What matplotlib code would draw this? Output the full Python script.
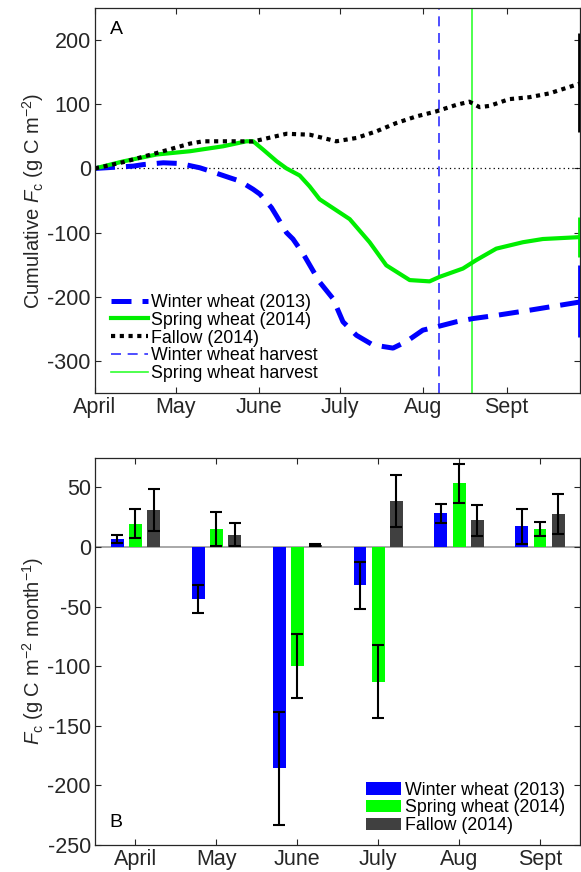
import numpy as np
import matplotlib
matplotlib.use('Agg')
import matplotlib.pyplot as plt

plt.rcParams['font.family'] = ['Liberation Sans', 'DejaVu Sans']
plt.rcParams['mathtext.fontset'] = 'custom'
plt.rcParams['mathtext.rm'] = 'Liberation Sans'
plt.rcParams['mathtext.it'] = 'Liberation Sans:italic'
plt.rcParams['axes.unicode_minus'] = False

# ---- panel A : cumulative Fc vs day of year ----
ww_doy = [91, 105.2, 108.9, 116.4, 122.6, 130, 133.7, 141.1, 144.8, 149.8, 152.3, 156.6,
          158.5, 162.2, 164.6, 168.4, 174.5, 179.5, 183.2, 188.2, 194.3, 201.8, 206.7,
          212.9, 217.9, 225.3, 231.5, 240.2, 252.5, 271.5]
ww_cum = [0, 3.6, 6, 8.8, 7.7, 1, -4, -14.5, -19.6, -32.5, -40, -61,
          -74, -100, -110, -133, -177, -203, -239, -260, -275, -280, -270,
          -252, -247, -239, -234, -229, -221, -208]

sw_doy = [91, 101.5, 113.9, 126.3, 138.6, 147.3, 149.8, 153.5, 158.5, 162.2, 167.1, 170.8,
          174.5, 185.7, 193.1, 199.3, 208, 215.4, 219.1, 227.8, 232.7, 240.2, 250.1,
          257.5, 271.5]
sw_cum = [0, 11, 21.7, 26.8, 34.5, 42.3, 42.3, 29.4, 11.3, 0, -11, -28,
          -48, -79, -115, -151, -174, -176, -169, -156, -143, -125, -115,
          -110, -107]

fa_doy = [91, 101.5, 113.9, 126.3, 131.2, 143.6, 149.8, 162.2, 170.8, 175.8, 180.7, 188.2,
          195.6, 203, 210.4, 217.8, 225.3, 230.2, 234, 237.7, 245, 252.5, 260, 271.5]
fa_cum = [0, 9.8, 24, 38.7, 42.3, 42.3, 42, 54, 52.6, 47.5, 42.3, 47.5,
          57.8, 70.7, 81, 88.8, 99, 104, 95.5, 97.5, 108, 111, 117, 132.6]

# end-of-season uncertainty (centre, half range)
end_mid = [-207, -107, 134]
end_err = [56, 31, 77]

ww_harvest = 219
sw_harvest = 231

month_doy = [91, 121, 152, 182, 213, 244]
month_labels = ['April', 'May', 'June', 'July', 'Aug', 'Sept']

# ---- panel B : monthly Fc ----
ww_month = [6.5, -43.4, -185.7, -32.2, 28.3, 17.4]
ww_month_err = [3.4, 11.8, 47.4, 19.4, 7.8, 14.7]
sw_month = [19.6, 15.1, -100, -113.2, 53.5, 14.9]
sw_month_err = [12.2, 14.4, 27, 30.6, 16.2, 5.8]
fa_month = [30.8, 10.3, 1.5, 38.4, 22.4, 27.7]
fa_month_err = [17.7, 9.8, 0.8, 21.7, 13.2, 16.5]

BLUE = '#0000ff'
GREEN = '#00ee00'
BARGREEN = '#00ff00'
GRAY = '#404040'
AXC = '#262626'
TICKFS = 15.5
LABFS = 14.5
LEGFS = 12.8

fig = plt.figure(figsize=(5.81, 8.72), dpi=100)
axA = fig.add_axes([0.1635, 0.5493, 0.8356, 0.4415])
axB = fig.add_axes([0.1635, 0.031, 0.8356, 0.4442])

for ax in (axA, axB):
    for s in ax.spines.values():
        s.set_color(AXC)
        s.set_linewidth(0.9)
    ax.tick_params(direction='in', top=True, right=True, length=4, width=0.8,
                   colors=AXC, labelsize=TICKFS, labelcolor=AXC, pad=3)

# panel A
axA.axhline(0, color='k', lw=0.9, ls=(0, (1, 2.5)))
axA.axvline(ww_harvest, color='#3030ff', lw=1.2, ls=(0, (6, 4)),
            label='Winter wheat harvest', zorder=1)
axA.axvline(sw_harvest, color='#30ff30', lw=1.2, label='Spring wheat harvest', zorder=1)
lw_line, = axA.plot(ww_doy, ww_cum, color=BLUE, lw=3.6, ls=(0, (4, 2.2)))
ls_line, = axA.plot(sw_doy, sw_cum, color=GREEN, lw=3.0)
lf_line, = axA.plot(fa_doy, fa_cum, color='k', lw=3.0, ls=(0, (1, 1.1)))
axA.errorbar([270.9] * 3, end_mid, yerr=end_err, fmt='none',
             ecolor=[BLUE, GREEN, 'k'], elinewidth=2.0, capsize=0, zorder=4)
axA.set_xlim(91, 271.5)
axA.set_ylim(-350, 250)
axA.set_xticks(month_doy)
axA.set_xticklabels(month_labels)
axA.set_yticks([-300, -200, -100, 0, 100, 200])
axA.set_ylabel(r'Cumulative $\mathit{F}_{\mathrm{c}}$ (g C m$^{-2}$)', fontsize=LABFS,
               color=AXC, labelpad=1)
axA.text(0.03, 0.965, 'A', transform=axA.transAxes, fontsize=14, va='top', ha='left')
h, l = axA.get_legend_handles_labels()
leg = axA.legend([lw_line, ls_line, lf_line, h[0], h[1]],
                 ['Winter wheat (2013)', 'Spring wheat (2014)', 'Fallow (2014)',
                  'Winter wheat harvest', 'Spring wheat harvest'],
                 loc='lower left', bbox_to_anchor=(0.01, 0.0), frameon=False,
                 fontsize=LEGFS, handlelength=2.1, handletextpad=0.2,
                 labelspacing=0.05, borderaxespad=0.2)

# panel B
x = np.arange(1, 7)
off = 0.225
bw = 0.16
axB.axhline(0, color='#999999', lw=1.2, zorder=1)
ekw = dict(ecolor='k', elinewidth=1.5, capsize=4, capthick=1.5)
axB.bar(x - off, ww_month, bw, color=BLUE, label='Winter wheat (2013)', zorder=2)
axB.bar(x, sw_month, bw, color=BARGREEN, label='Spring wheat (2014)', zorder=2)
axB.bar(x + off, fa_month, bw, color=GRAY, label='Fallow (2014)', zorder=2)
axB.errorbar(x - off, ww_month, yerr=ww_month_err, fmt='none', zorder=3, **ekw)
axB.errorbar(x, sw_month, yerr=sw_month_err, fmt='none', zorder=3, **ekw)
axB.errorbar(x + off, fa_month, yerr=fa_month_err, fmt='none', zorder=3, **ekw)
axB.set_xlim(0.5, 6.5)
axB.set_ylim(-250, 75)
axB.set_xticks(x)
axB.set_xticklabels(month_labels)
axB.set_yticks([-250, -200, -150, -100, -50, 0, 50])
axB.set_ylabel(r'$\mathit{F}_{\mathrm{c}}$ (g C m$^{-2}$ month$^{-1}$)', fontsize=LABFS,
               color=AXC, labelpad=1)
axB.text(0.03, 0.035, 'B', transform=axB.transAxes, fontsize=14, va='bottom', ha='left')
axB.legend(loc='lower right', bbox_to_anchor=(0.99, 0.0), frameon=False, fontsize=LEGFS,
           handlelength=2.0, handleheight=0.7, handletextpad=0.2, labelspacing=0.05,
           borderaxespad=0.2)

fig.savefig('out.png', dpi=100)
